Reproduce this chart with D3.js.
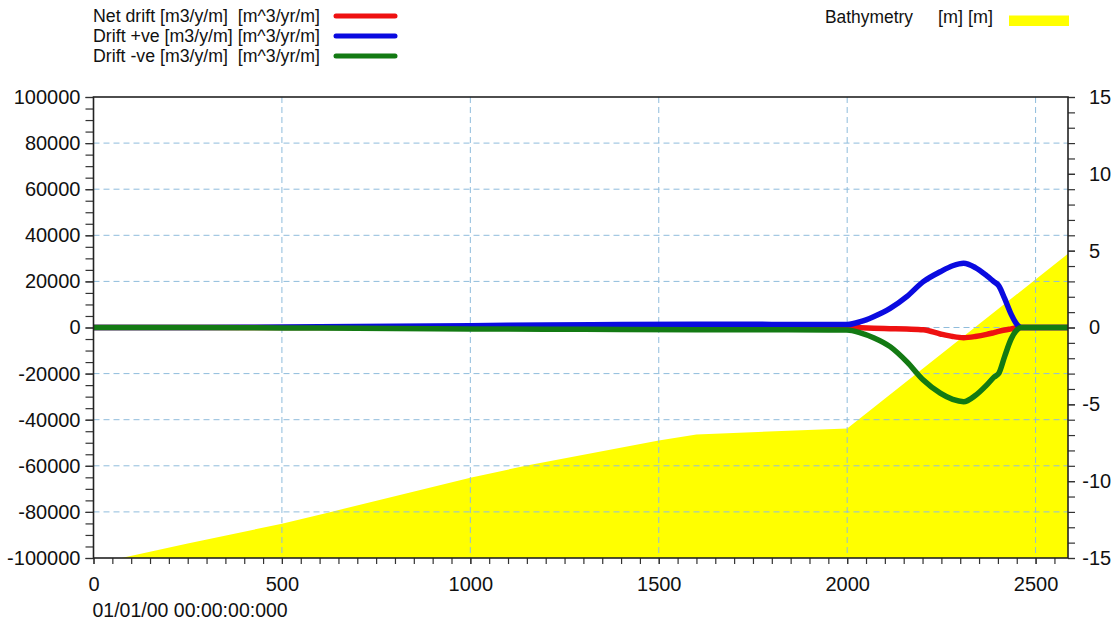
<!DOCTYPE html>
<html>
<head>
<meta charset="utf-8">
<script src="https://cdn.jsdelivr.net/npm/d3@7"></script>
<style>
  html, body { margin: 0; padding: 0; background: #fff; }
  svg text { font-family: "Liberation Sans", Arial, Helvetica, sans-serif; fill: #111; white-space: pre; }
</style>
</head>
<body>
<svg id="chart" width="1117" height="624"></svg>
<script>
// Chainage along the profile [m]
const distance = [0, 200, 400, 600, 800, 1000, 1200, 1400, 1600, 1800, 1950, 2000, 2035, 2070, 2114, 2158, 2202, 2247, 2280, 2309, 2340, 2370, 2390, 2402, 2418, 2435, 2452, 2462, 2500, 2586];

// Longshore drift series [m^3/yr/m]
const netDrift   = [0, 0, 0, 50, 100, 200, 300, 400, 450, 350, 200, 0, -150, -300, -500, -700, -1000, -2800, -3900, -4400, -3900, -3000, -2200, -1700, -1100, -600, -100, 0, 0, 0];
const driftPos   = [0, 0, 100, 300, 550, 800, 1050, 1300, 1450, 1350, 1250, 1300, 2500, 4700, 8300, 13400, 19900, 24200, 26800, 27900, 26000, 22500, 19800, 18200, 12500, 5800, 1000, 0, 0, 0];
const driftNeg   = [0, 0, -100, -250, -450, -600, -750, -850, -950, -1000, -1050, -1100, -2300, -4400, -8300, -14800, -22800, -28500, -31200, -32200, -29500, -25000, -21500, -20000, -12500, -5000, -800, 0, 0, 0];

// Bed profile [m]
const bathyDistance = [0, 250, 500, 630, 1000, 1150, 1500, 1600, 2000, 2586];
const bathyLevel    = [-15.4, -14.05, -12.77, -12.0, -9.78, -8.98, -7.35, -6.96, -6.57, 4.8];

// Axis ticks
const xMajorTicks = [0, 500, 1000, 1500, 2000, 2500];
const yLeftMajorTicks = [100000, 80000, 60000, 40000, 20000, 0, -20000, -40000, -60000, -80000, -100000];
const yRightMajorTicks = [15, 10, 5, 0, -5, -10, -15];
const timeLabel = "01/01/00 00:00:00:000";

const seriesNames = ["Net drift [m3/y/m]  [m^3/yr/m]", "Drift +ve [m3/y/m] [m^3/yr/m]", "Drift -ve [m3/y/m]  [m^3/yr/m]"];
const seriesColors = ["#ee1111", "#0a0ae0", "#137a13"];
const bathyName = "Bathymetry", bathyUnit = "[m] [m]";
const bathyColor = "#ffff00";

const svg = d3.select("#chart");
const L = 93.5, R = 1068, T = 97, B = 558;

const x = d3.scaleLinear().domain([0, 2586]).range([L, R]);
const yL = d3.scaleLinear().domain([-100000, 100000]).range([B, T]);
const yR = d3.scaleLinear().domain([-15, 15]).range([B, T]);

svg.append("defs").append("clipPath").attr("id", "plotClip")
  .append("rect").attr("x", L).attr("y", T).attr("width", R - L).attr("height", B - T);

const plot = svg.append("g").attr("clip-path", "url(#plotClip)");

// Bathymetry fill
const bathy = bathyDistance.map((d, i) => [d, bathyLevel[i]]);
plot.append("path")
  .datum(bathy)
  .attr("fill", bathyColor)
  .attr("d", d3.area().x(d => x(d[0])).y0(B + 5).y1(d => yR(d[1])));

// Grid
const gridColor = "#8fbcdc";
plot.append("g").selectAll("line").data(xMajorTicks.filter(v => v > 0))
  .join("line")
  .attr("x1", d => x(d)).attr("x2", d => x(d))
  .attr("y1", T).attr("y2", B)
  .attr("stroke", gridColor).attr("stroke-width", 1).attr("stroke-dasharray", "6,4");
plot.append("g").selectAll("line").data(yLeftMajorTicks.filter(v => v < 100000 && v > -100000))
  .join("line")
  .attr("x1", L).attr("x2", R)
  .attr("y1", d => yL(d)).attr("y2", d => yL(d))
  .attr("stroke", gridColor).attr("stroke-width", 1).attr("stroke-dasharray", "6,4");

// Drift lines
const line = d3.line().x(d => x(d[0])).y(d => yL(d[1])).curve(d3.curveMonotoneX);
[netDrift, driftPos, driftNeg].forEach((vals, k) => {
  plot.append("path")
    .datum(distance.map((d, i) => [d, vals[i]]))
    .attr("fill", "none")
    .attr("stroke", seriesColors[k])
    .attr("stroke-width", 5.5)
    .attr("stroke-linecap", "round")
    .attr("stroke-linejoin", "round")
    .attr("d", line);
});

// Axes (plain hyphen for negatives)
const fmt = v => String(v);
const tickFont = "20px";

svg.append("g").attr("transform", `translate(0,${B})`)
  .call(d3.axisBottom(x).tickValues(d3.range(0, 2586, 50)).tickSize(6).tickFormat("").tickSizeOuter(0))
  .call(g => g.select(".domain").remove());
svg.append("g").attr("transform", `translate(0,${B})`)
  .call(d3.axisBottom(x).tickValues(xMajorTicks).tickSize(6).tickPadding(13).tickFormat(fmt).tickSizeOuter(0))
  .call(g => g.select(".domain").remove())
  .call(g => g.selectAll("text").style("font-size", tickFont).attr("fill", "#111"));

svg.append("g").attr("transform", `translate(${L},0)`)
  .call(d3.axisLeft(yL).tickValues(d3.range(-100000, 100001, 5000)).tickSize(8).tickFormat("").tickSizeOuter(0))
  .call(g => g.select(".domain").remove());
svg.append("g").attr("transform", `translate(${L},0)`)
  .call(d3.axisLeft(yL).tickValues(yLeftMajorTicks).tickSize(8).tickPadding(5).tickFormat(fmt).tickSizeOuter(0))
  .call(g => g.select(".domain").remove())
  .call(g => g.selectAll("text").style("font-size", tickFont).attr("fill", "#111"));

svg.append("g").attr("transform", `translate(${R},0)`)
  .call(d3.axisRight(yR).tickValues(d3.range(-15, 16, 1)).tickSize(7).tickFormat("").tickSizeOuter(0))
  .call(g => g.select(".domain").remove());
svg.append("g").attr("transform", `translate(${R},0)`)
  .call(d3.axisRight(yR).tickValues(yRightMajorTicks).tickSize(7).tickPadding(14).tickFormat(fmt).tickSizeOuter(0))
  .call(g => g.select(".domain").remove())
  .call(g => g.selectAll("text").style("font-size", tickFont).attr("fill", "#111")
    .attr("dx", d => d < 0 ? "-6.7" : "0"));

svg.selectAll(".tick line").attr("stroke", "#333").attr("stroke-width", 1.2);

// Frame
svg.append("rect")
  .attr("x", L).attr("y", T).attr("width", R - L).attr("height", B - T)
  .attr("fill", "none").attr("stroke", "#222").attr("stroke-width", 1.6);

// Time stamp under the axis
svg.append("text").attr("x", L - 1).attr("y", 617)
  .style("font-size", "19.5px").text(timeLabel);

// Legend
const legFont = "17.5px";
const leg = svg.append("g");
seriesNames.forEach((name, k) => {
  const yy = 16 + k * 20;
  leg.append("text").attr("x", 93).attr("y", yy + 5.5)
    .style("font-size", legFont).attr("textLength", 227).attr("lengthAdjust", "spacingAndGlyphs")
    .text(name);
  leg.append("line").attr("x1", 336).attr("x2", 395).attr("y1", yy).attr("y2", yy)
    .attr("stroke", seriesColors[k]).attr("stroke-width", 5).attr("stroke-linecap", "round");
});
leg.append("text").attr("x", 825).attr("y", 23).style("font-size", legFont)
  .attr("textLength", 88).attr("lengthAdjust", "spacingAndGlyphs").text(bathyName);
leg.append("text").attr("x", 938).attr("y", 23).style("font-size", legFont)
  .attr("textLength", 55).attr("lengthAdjust", "spacingAndGlyphs").text(bathyUnit);
leg.append("rect").attr("x", 1009).attr("y", 15.5).attr("width", 60).attr("height", 10.5).attr("fill", bathyColor);
</script>
</body>
</html>
